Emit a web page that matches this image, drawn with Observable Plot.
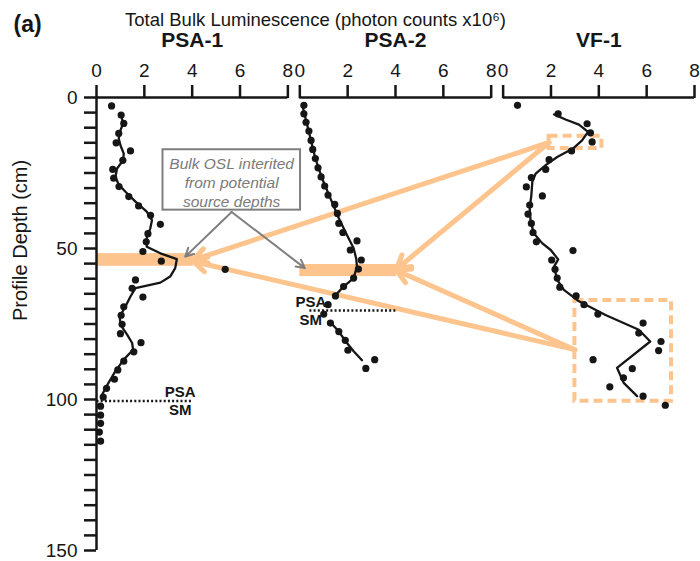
<!DOCTYPE html>
<html><head><meta charset="utf-8">
<script src="https://cdn.jsdelivr.net/npm/d3@7"></script>
<script src="https://cdn.jsdelivr.net/npm/@observablehq/plot@0.6"></script>
<style>body{margin:0;background:#fff}</style>
</head><body><div id="chart"></div>
<script>
const panels = ["PSA-1", "PSA-2", "VF-1"];
const xTicks = [0, 2, 4, 6, 8];
const yMinorTicks = d3.range(0, 151, 5);
const yLabelTicks = [0, 50, 100, 150];
const title = "Total Bulk Luminescence (photon counts x10\u2076)";
const yTitle = "Profile Depth (cm)";
const noteText = "Bulk OSL interited\nfrom potential\nsource depths";

// [luminescence, depth]
const psa1Points = [[0.63,2.8],[1.03,5.8],[1.14,8.6],[0.93,11.9],[0.82,15.0],[1.42,17.7],[1.1,20.8],[0.68,23.8],[0.72,26.7],[0.94,29.5],[1.35,32.8],[1.76,35.9],[2.26,39.0],[2.67,42.0],[2.15,45.1],[2.08,47.8],[1.94,51.0],[2.71,54.2],[5.38,56.9],[1.63,60.4],[1.49,63.2],[1.94,66.1],[1.14,69.3],[1.03,72.1],[1.07,75.1],[1.0,78.2],[1.86,81.2],[1.56,84.2],[1.14,87.3],[0.89,90.2],[0.75,93.3],[0.42,96.3],[0.28,99.2],[0.17,102.2],[0.17,105.2],[0.17,107.9],[0.12,110.8],[0.17,113.8]];
const psa1Line = [[1.03,5.9],[1.11,8.7],[1.0,10.9],[0.93,13.6],[1.0,15.8],[1.14,18.6],[1.11,20.8],[0.86,23.5],[0.79,26.3],[0.93,28.8],[1.21,31.2],[1.63,34.5],[2.1,37.8],[2.32,40.6],[2.25,43.3],[2.1,46.6],[2.1,49.4],[2.67,51.6],[3.36,53.5],[3.29,56.5],[3.08,59.3],[2.67,61.3],[1.63,63.1],[1.42,65.9],[1.21,69.2],[0.97,72.5],[1.0,75.2],[1.28,78.5],[1.49,81.3],[1.53,83.5],[1.14,86.8],[0.79,90.6],[0.42,95.6],[0.25,98.2]];

const psa2Points = [[0.17,2.6],[0.17,5.4],[0.26,8.2],[0.38,11.1],[0.47,14.2],[0.54,17.2],[0.65,20.2],[0.76,23.3],[0.89,26.3],[1.04,29.3],[1.18,32.3],[1.46,35.4],[1.57,38.4],[1.63,41.7],[1.8,44.7],[2.39,47.5],[2.11,50.5],[2.57,53.8],[2.45,56.8],[2.25,59.8],[1.83,62.6],[1.49,65.7],[1.18,68.6],[1.0,71.7],[1.28,74.7],[1.63,77.5],[1.9,80.4],[2.01,83.7],[3.13,86.8],[2.76,89.7]];
const psa2LineUpper = [[0.1,2.4],[0.38,11.4],[0.65,20.2],[0.93,26.8],[1.28,33.4],[1.63,40.0],[1.97,45.5],[2.25,49.9],[2.36,53.5],[2.39,56.0],[2.25,59.8],[1.83,62.6],[1.42,66.1]];
const psa2LineLower = [[1.24,74.1],[1.63,77.5],[1.97,81.3],[2.25,84.0],[2.6,87.0]];

const vf1Points = [[0.6,2.6],[2.3,5.4],[3.51,8.7],[3.65,11.7],[3.72,14.7],[2.86,17.7],[1.92,20.6],[1.78,23.8],[1.18,26.5],[0.97,29.6],[1.64,32.6],[1.11,35.6],[1.04,38.6],[1.18,41.7],[1.25,44.7],[1.39,47.8],[2.92,50.7],[2.03,53.8],[2.17,56.9],[2.26,59.8],[2.37,62.8],[3.05,65.7],[3.38,68.6],[3.96,71.7],[5.85,74.7],[5.67,78.0],[6.6,80.8],[6.5,83.8],[3.76,86.8],[5.4,89.8],[5.03,92.8],[4.46,95.8],[5.85,98.9],[6.78,101.9]];
const vf1Line = [[2.13,5.6],[2.61,7.3],[3.17,9.0],[3.55,11.4],[3.3,14.2],[2.92,16.9],[2.26,19.7],[1.78,22.4],[1.36,25.2],[1.22,27.9],[1.18,32.3],[1.11,36.7],[1.15,41.2],[1.29,45.0],[1.64,48.3],[1.99,50.5],[2.3,53.6],[2.13,56.0],[2.26,60.4],[2.54,63.7],[3.17,67.5],[4.28,72.0],[5.67,76.9],[6.15,80.8],[4.76,89.5],[5.04,94.5],[5.6,98.9]];

// PSA / SM boundaries
const boundaries = [
  {panel: "PSA-1", depth: 100.5, from: 0, to: 4.0, labelAt: 3.5, anchor: "start"},
  {panel: "PSA-2", depth: 70.5, from: 0.4, to: 4.0, labelAt: 0.46, anchor: "end"}
];
// inherited luminescence bands
const bands = [
  {panel: "PSA-1", from: 0, to: 4.05, top: 51.7, bottom: 55.9},
  {panel: "PSA-2", from: 0, to: 4.05, top: 55.3, bottom: 59.3}
];
// potential source depths
const sources = [
  {panel: "VF-1", from: 1.92, to: 4.13, top: 12.8, bottom: 16.9},
  {panel: "VF-1", from: 3.0, to: 7.04, top: 67.2, bottom: 100.6}
];
const links = [
  {fromPanel: "VF-1", fx: 1.92, fd: 14.9, toPanel: "PSA-1", tx: 4.05, td: 53.8},
  {fromPanel: "VF-1", fx: 1.92, fd: 14.9, toPanel: "PSA-2", tx: 4.05, td: 56.8},
  {fromPanel: "VF-1", fx: 3.0, fd: 83.5, toPanel: "PSA-1", tx: 4.05, td: 54.3},
  {fromPanel: "VF-1", fx: 3.0, fd: 83.5, toPanel: "PSA-2", tx: 4.05, td: 57.3}
];
const note = {panel: "PSA-1", from: 2.78, to: 8.53, top: 17.3, bottom: 37.3, cx: 5.65, cd: 27.9};
const noteArrows = [
  {fromPanel: "PSA-1", fx: 5.65, fd: 37.9, toPanel: "PSA-1", tx: 3.71, td: 52.7},
  {fromPanel: "PSA-1", fx: 5.65, fd: 37.9, toPanel: "PSA-2", tx: 0.21, td: 56.5}
];

const GAP = 8.5;
const off = p => panels.indexOf(p) * GAP;
const X = (p, v) => off(p) + v;
const ORANGE = "#fdc48e";
const INK = "#161616";

const rows = (pts, panel) => pts.map(([v, d]) => ({panel, v, d}));
const pointRows = [...rows(psa1Points, "PSA-1"), ...rows(psa2Points, "PSA-2"), ...rows(vf1Points, "VF-1")];
const lineRows = [
  ...rows(psa1Line, "PSA-1").map(r => ({...r, seg: "a"})),
  ...rows(psa2LineUpper, "PSA-2").map(r => ({...r, seg: "b"})),
  ...rows(psa2LineLower, "PSA-2").map(r => ({...r, seg: "c"})),
  ...rows(vf1Line, "VF-1").map(r => ({...r, seg: "d"}))
];
const tickRows = panels.flatMap(p => xTicks.map(t => ({pos: X(p, t), label: t})));
const tickLabel = new Map(tickRows.map(r => [r.pos, String(r.label)]));

const chart = Plot.plot({
  width: 700, height: 561,
  marginTop: 97, marginBottom: 11, marginLeft: 96, marginRight: 6,
  x: {domain: [0, 2 * GAP + 8]},
  y: {domain: [0, 150], reverse: true},
  style: {fontFamily: "'Liberation Sans', Arial, sans-serif", fontSize: "18px", color: INK, background: "#fff", overflow: "visible"},
  marks: [
    Plot.rect(bands, {x1: d => X(d.panel, d.from), x2: d => X(d.panel, d.to), y1: "top", y2: "bottom", fill: ORANGE}),
    Plot.arrow(links, {x1: d => X(d.fromPanel, d.fx), y1: "fd", x2: d => X(d.toPanel, d.tx), y2: "td", stroke: ORANGE, strokeWidth: 5, headLength: 4.5, headAngle: 60}),
    Plot.rect(sources, {x1: d => X(d.panel, d.from), x2: d => X(d.panel, d.to), y1: "top", y2: "bottom", fill: "none", stroke: ORANGE, strokeWidth: 4, strokeDasharray: "9,5"}),
    Plot.link(boundaries, {x1: d => X(d.panel, d.from), x2: d => X(d.panel, d.to), y1: "depth", y2: "depth", stroke: INK, strokeWidth: 2.5, strokeDasharray: "2,2.2"}),
    Plot.text(boundaries, {x: d => X(d.panel, d.labelAt), y: "depth", text: () => "PSA", textAnchor: d => d.anchor, dy: -8.5, fontWeight: "bold", fontSize: 15}),
    Plot.text(boundaries, {x: d => X(d.panel, d.labelAt), y: "depth", text: () => "SM", textAnchor: d => d.anchor, dy: 9.5, fontWeight: "bold", fontSize: 15}),
    Plot.ruleX([0], {stroke: INK, strokeWidth: 2.5}),
    Plot.ruleY(panels, {y: () => 0, x1: p => X(p, 0), x2: p => X(p, 8), stroke: INK, strokeWidth: 2.5}),
    Plot.axisX(tickRows.map(r => r.pos), {anchor: "top", tickSize: 13, tickPadding: 8, tickFormat: v => tickLabel.get(v), fontSize: 19, strokeWidth: 2.5, stroke: INK, label: null}),
    Plot.axisY(yMinorTicks, {anchor: "left", tickSize: 12, tickPadding: 7, tickFormat: d => yLabelTicks.includes(d) ? String(d) : "", fontSize: 19, strokeWidth: 2.5, stroke: INK, label: null}),
    Plot.line(lineRows, {x: d => X(d.panel, d.v), y: "d", z: "seg", stroke: INK, strokeWidth: 2.3}),
    Plot.dot(pointRows, {x: d => X(d.panel, d.v), y: "d", r: 3.6, fill: INK}),
    Plot.rect([note], {x1: d => X(d.panel, d.from), x2: d => X(d.panel, d.to), y1: "top", y2: "bottom", fill: "#fff", stroke: "#7f7f7f", strokeWidth: 2}),
    Plot.text([note], {x: d => X(d.panel, d.cx), y: "cd", text: () => noteText, fontStyle: "italic", fill: "#7a7a7a", fontSize: 15.5, lineHeight: 1.24}),
    Plot.arrow(noteArrows, {x1: d => X(d.fromPanel, d.fx), y1: "fd", x2: d => X(d.toPanel, d.tx), y2: "td", stroke: "#7f7f7f", strokeWidth: 2, headLength: 7, headAngle: 55}),
    Plot.text(panels, {x: p => X(p, 4), frameAnchor: "top", lineAnchor: "middle", dy: -57, text: d => d, fontWeight: "bold", fontSize: 21}),
    Plot.text([title], {frameAnchor: "top", lineAnchor: "middle", dx: -80, dy: -77, text: d => d, fontSize: 18.5}),
    Plot.text(["(a)"], {frameAnchor: "top-left", lineAnchor: "middle", dx: -83, dy: -73, text: d => d, fontWeight: "bold", fontSize: 23}),
    Plot.text([yTitle], {frameAnchor: "left", lineAnchor: "middle", rotate: -90, dx: -76, dy: -3, text: d => d, fontSize: 20})
  ]
});
document.getElementById("chart").append(chart);
</script>
</body></html>
